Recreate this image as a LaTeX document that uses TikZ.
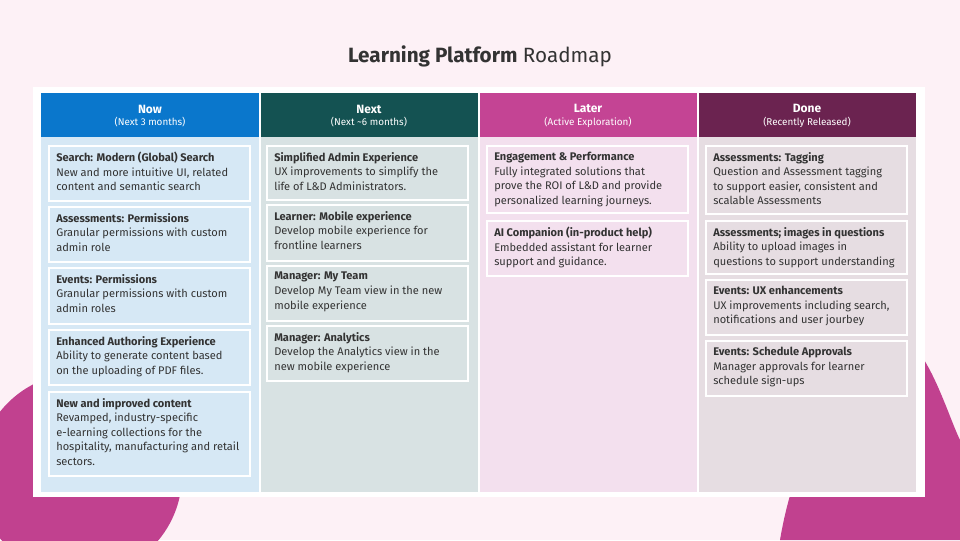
\documentclass[tikz,border=0pt]{standalone}
\usepackage{fontspec}
\setmainfont{Fira Sans}
\definecolor{bg}{HTML}{FDF1F6}
\definecolor{mag}{HTML}{C1418F}
\definecolor{hNow}{HTML}{0A77CC}\definecolor{bNow}{HTML}{D6E8F5}
\definecolor{hNext}{HTML}{145252}\definecolor{bNext}{HTML}{D8E2E3}
\definecolor{hLater}{HTML}{C44494}\definecolor{bLater}{HTML}{F3E0EE}
\definecolor{hDone}{HTML}{6B2350}\definecolor{bDone}{HTML}{E6DDE2}
\definecolor{txt}{HTML}{333333}
\tikzset{
  hdr/.style={text=white,align=center,font=\fontsize{9}{10.5}\selectfont},
  card/.style={draw=white,line width=1pt},
  ctext/.style={anchor=north west,inner sep=0pt,text=txt,align=left,font=\fontsize{8.3}{10.9}\selectfont},
}
\newcommand{\mycard}[7]{%
  \fill[#7] (#2,#3) rectangle (#2+201,#4);
  \draw[card] (#2,#3) rectangle (#2+201,#4);
  \node[ctext] (#1) at (#2+7,#3+6) {\textbf{#5}\\#6};}
\newcommand{\hsub}[1]{\\[-1pt]{\fontsize{7.4}{9}\selectfont #1}}
\begin{document}
\begin{tikzpicture}[x=0.75pt,y=-0.75pt]
\useasboundingbox (0,0) rectangle (960,540);
\fill[bg] (0,0) rectangle (960,540);
\fill[mag] (80,475) circle[radius=102];
\fill[mag] (780,540) .. controls (800,420) and (870,330) .. (910,345) .. controls (930,355) and (950,420) .. (960,440) -- (960,540) -- cycle;
\node[font=\fontsize{15.5}{18}\selectfont,text=txt] (title) at (480,56) {\textbf{Learning Platform} Roadmap};
\fill[white] (33,87) rectangle (925,497);
\foreach \x/\c in {41/Now,260/Next,479/Later,698/Done}{
  \fill[b\c] (\x,137) rectangle (\x+218,492);
  \fill[h\c] (\x,93) rectangle (\x+218,137);
}
\draw[white,line width=1.5pt] (259.5,93) -- (259.5,492) (478.5,93) -- (478.5,492) (697.5,93) -- (697.5,492);
\node[hdr] (hnow) at (150,116) {\textbf{Now}\hsub{(Next 3 months)}};
\node[hdr] (hnext) at (369,116) {\textbf{Next}\hsub{(Next \textasciitilde6 months)}};
\node[hdr] (hlater) at (588,116) {\textbf{Later}\hsub{(Active Exploration)}};
\node[hdr] (hdone) at (807,116) {\textbf{Done}\hsub{(Recently Released)}};
% Now
\mycard{n1}{49}{146}{201}{Search: Modern (Global) Search}{New and more intuitive UI, related\\content and semantic search}{bNow}
\mycard{n2}{49}{207}{262}{Assessments: Permissions}{Granular permissions with custom\\admin role}{bNow}
\mycard{n3}{49}{268}{324}{Events: Permissions}{Granular permissions with custom\\admin roles}{bNow}
\mycard{n4}{49}{330}{385}{Enhanced Authoring Experience}{Ability to generate content based\\on the uploading of PDF files.}{bNow}
\mycard{n5}{49}{392}{476}{New and improved content}{Revamped, industry-specific\\e-learning collections for the\\hospitality, manufacturing and retail\\sectors.}{bNow}
% Next
\mycard{x1}{267}{146}{200}{Simplified Admin Experience}{UX improvements to simplify the\\life of L\&D Administrators.}{bNext}
\mycard{x2}{267}{205}{261}{Learner: Mobile experience}{Develop mobile experience for\\frontline learners}{bNext}
\mycard{x3}{267}{266}{321}{Manager: My Team}{Develop My Team view in the new\\mobile experience}{bNext}
\mycard{x4}{267}{326}{381}{Manager: Analytics}{Develop the Analytics view in the\\new mobile experience}{bNext}
% Later
\mycard{l1}{487}{146}{213}{Engagement \& Performance}{Fully integrated solutions that\\prove the ROI of L\&D and provide\\personalized learning journeys.}{bLater}
\mycard{l2}{487}{221}{276}{AI Companion (in-product help)}{Embedded assistant for learner\\support and guidance.}{bLater}
% Done
\mycard{d1}{706}{146}{214}{Assessments: Tagging}{Question and Assessment tagging\\to support easier, consistent and\\scalable Assessments}{bDone}
\mycard{d2}{706}{221}{274}{Assessments; images in questions}{Ability to upload images in\\questions to support understanding}{bDone}
\mycard{d3}{706}{280}{335}{Events: UX enhancements}{UX improvements including search,\\notifications and user jourbey}{bDone}
\mycard{d4}{706}{341}{396}{Events: Schedule Approvals}{Manager approvals for learner\\schedule sign-ups}{bDone}
\end{tikzpicture}
\end{document}
